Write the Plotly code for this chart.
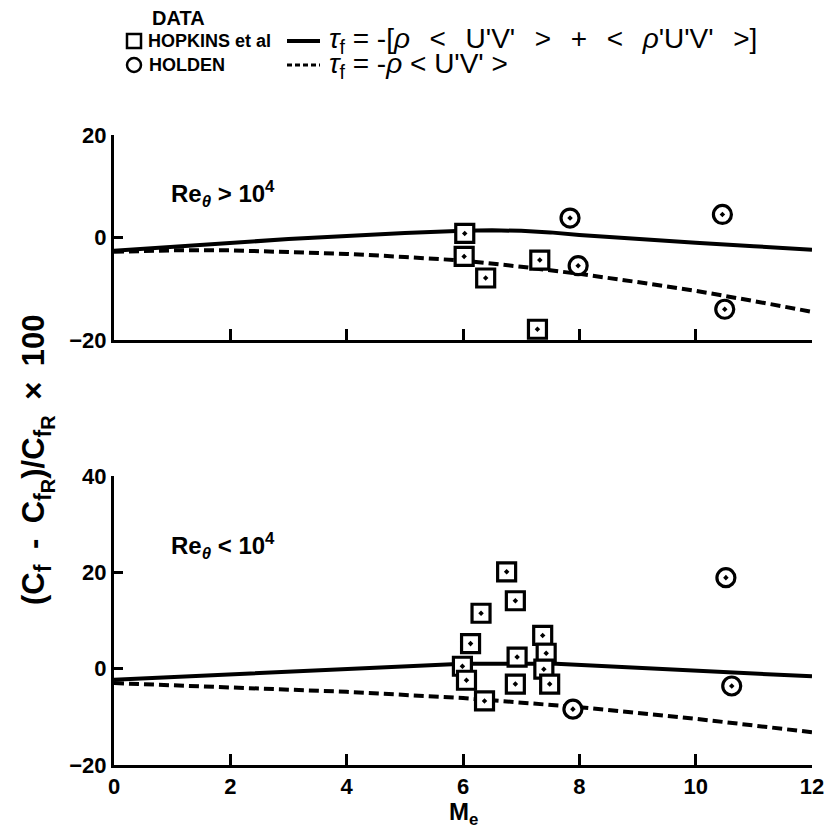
import plotly.graph_objects as go

W, H = 829, 839

# ---------------- data ----------------
# Re_theta > 1e4 (top panel)
hop_hi_x = [6.03, 6.02, 6.39, 7.32, 7.28]
hop_hi_y = [0.8, -3.7, -7.9, -4.4, -17.9]
hol_hi_x = [7.84, 7.98, 10.46, 10.50]
hol_hi_y = [3.8, -5.5, 4.5, -14.0]
sol_hi_x = [0, 1, 2, 3, 4, 5, 6, 6.5, 7, 7.5, 8, 9, 10, 11, 12]
sol_hi_y = [-2.6, -1.8, -1.0, -0.3, 0.3, 0.9, 1.3, 1.4, 1.3, 1.0, 0.5, -0.3, -1.0, -1.7, -2.4]
das_hi_x = [0, 1, 2, 3, 4, 5, 6, 7, 8, 9, 10, 11, 12]
das_hi_y = [-2.8, -2.5, -2.5, -2.8, -3.2, -3.8, -4.5, -5.7, -7.1, -8.7, -10.4, -12.4, -14.5]

# Re_theta < 1e4 (bottom panel)
hop_lo_x = [6.75, 6.90, 6.31, 6.13, 5.99, 6.06, 6.37, 6.93, 6.90, 7.37, 7.43, 7.39, 7.49]
hop_lo_y = [20.1, 14.1, 11.5, 5.2, 0.5, -2.4, -6.7, 2.4, -3.2, 6.9, 3.2, -0.1, -3.2]
hol_lo_x = [7.89, 10.52, 10.62, 12.07, 12.03]
hol_lo_y = [-8.4, 18.9, -3.6, 42.6, 3.6]
sol_lo_x = [0, 6, 7.6, 12]
sol_lo_y = [-2.3, 1.0, 1.0, -1.6]
das_lo_x = [0, 2, 4, 6, 8, 10, 12]
das_lo_y = [-3.0, -3.8, -4.8, -6.1, -8.0, -10.4, -13.2]

x_ticks = [0, 2, 4, 6, 8, 10, 12]
y_ticks_hi = [-20, 0, 20]
y_ticks_lo = [-20, 0, 20, 40]

# ---------------- layout helpers (targets in screenshot pixels) ----------------
AX_L, AX_R = 114, 812
L, R, T, B = AX_L, W - AX_R, 0, 0
PW, PH = W - L - R, H - T - B


def px(xp):
    return (xp - L) / PW


def py(yp):
    return 1 - (yp - T) / PH


FONT = "Liberation Sans"
BOLD = dict(family=FONT, size=22, color="black", weight="bold")

fig = go.Figure()

line_solid = dict(color="black", width=4)
line_dash = dict(color="black", width=4, dash="10px,5px")


def add_panel(xa, ya, sx, sy, dx, dy, hx, hy, ox, oy):
    fig.add_trace(go.Scatter(x=dx, y=dy, mode="lines", line=line_dash,
                             xaxis=xa, yaxis=ya, showlegend=False, hoverinfo="skip"))
    fig.add_trace(go.Scatter(x=sx, y=sy, mode="lines", line=line_solid,
                             xaxis=xa, yaxis=ya, showlegend=False, hoverinfo="skip"))
    fig.add_trace(go.Scatter(x=hx, y=hy, mode="markers", cliponaxis=False,
                             marker=dict(symbol="square-dot", size=18, color="white",
                                         line=dict(color="black", width=3.2)),
                             xaxis=xa, yaxis=ya, name="HOPKINS et al", showlegend=False))
    fig.add_trace(go.Scatter(x=ox, y=oy, mode="markers", cliponaxis=False,
                             marker=dict(symbol="circle-dot", size=18, color="white",
                                         line=dict(color="black", width=3.2)),
                             xaxis=xa, yaxis=ya, name="HOLDEN", showlegend=False))


add_panel("x", "y", sol_hi_x, sol_hi_y, das_hi_x, das_hi_y, hop_hi_x, hop_hi_y, hol_hi_x, hol_hi_y)
add_panel("x2", "y2", sol_lo_x, sol_lo_y, das_lo_x, das_lo_y, hop_lo_x, hop_lo_y, hol_lo_x, hol_lo_y)

axis_common = dict(showline=True, linewidth=3, linecolor="black", showgrid=False,
                   zeroline=False, ticks="inside", tickcolor="black", tickwidth=2.5,
                   tickfont=BOLD, mirror=False, automargin=False,
                   ticklabeloverflow="allow")

fig.update_layout(
    template="none",
    width=W, height=H,
    margin=dict(l=L, r=R, t=T, b=B, pad=0),
    paper_bgcolor="white", plot_bgcolor="white",
    showlegend=False,
    xaxis=dict(domain=[0, 1], anchor="y", range=[0, 12], tickvals=x_ticks,
               showticklabels=False, ticklen=11, **axis_common),
    yaxis=dict(domain=[py(340), py(135)], anchor="x", range=[-20, 20],
               tickvals=y_ticks_hi, ticklen=9, **axis_common),
    xaxis2=dict(domain=[0, 1], anchor="y2", range=[0, 12], tickvals=x_ticks,
                ticklen=11, **axis_common),
    yaxis2=dict(domain=[py(765), py(476)], anchor="x2", range=[-20, 40],
                tickvals=y_ticks_lo, ticklen=9, **axis_common),
)


def sz(t, s):
    return f"<span style='font-size:{s}px'>{t}</span>"


ann = []
RE_F = dict(family=FONT, size=24, color="black", weight="bold")
ann.append(dict(xref="x", yref="y", x=0.95, y=8.5, xanchor="left", yanchor="middle",
                text="Re<sub><i>θ</i></sub> &gt; 10<sup>4</sup>", showarrow=False, font=RE_F))
ann.append(dict(xref="x2", yref="y2", x=0.95, y=25.5, xanchor="left", yanchor="middle",
                text="Re<sub><i>θ</i></sub> &lt; 10<sup>4</sup>", showarrow=False, font=RE_F))
# axis titles
EN = "&#8194;"
fR = f"{sz('f', 23)}<sub>{sz('R', 20)}</sub>"
ann.append(dict(xref="paper", yref="paper", x=px(37), y=py(460), xanchor="center",
                yanchor="middle", textangle=-90, showarrow=False,
                text=f"(C<sub>{sz('f', 23)}</sub>{EN}-{EN}C<sub>{fR}</sub>)/C<sub>{fR}</sub>{EN}×{EN}100",
                font=dict(family=FONT, size=31, color="black", weight="bold")))
ann.append(dict(xref="paper", yref="paper", x=px(463), y=py(813), xanchor="center",
                yanchor="middle", showarrow=False, text="M<sub>e</sub>",
                font=dict(family=FONT, size=24, color="black", weight="bold")))
# legend block
LEGF = dict(family=FONT, size=18, color="black", weight="bold")
FORMF = dict(family=FONT, size=28, color="black")
GAP = "&#8194;&#8201;"
ann.append(dict(xref="paper", yref="paper", x=px(178), y=py(18), xanchor="center",
                yanchor="middle", showarrow=False, text="DATA",
                font=dict(family=FONT, size=20, color="black", weight="bold")))
ann.append(dict(xref="paper", yref="paper", x=px(146), y=py(41), xanchor="left",
                yanchor="middle", showarrow=False, text="HOPKINS et al", font=LEGF))
ann.append(dict(xref="paper", yref="paper", x=px(147), y=py(65), xanchor="left",
                yanchor="middle", showarrow=False, text="HOLDEN", font=LEGF))
ann.append(dict(xref="paper", yref="paper", x=px(327), y=py(41), xanchor="left",
                yanchor="middle", showarrow=False, font=FORMF,
                text=f"<i>τ</i><sub>f</sub> = -[<i>ρ</i>{GAP}&lt;{GAP}U'V'{GAP}&gt;{GAP}+{GAP}&lt;{GAP}<i>ρ</i>'U'V'{GAP}&gt;]"))
ann.append(dict(xref="paper", yref="paper", x=px(327), y=py(65), xanchor="left",
                yanchor="middle", showarrow=False, font=FORMF,
                text="<i>τ</i><sub>f</sub> = -<i>ρ</i> &lt; U'V' &gt;"))
fig.update_layout(annotations=ann)

shapes = [
    dict(type="rect", xref="paper", yref="paper", x0=px(127), x1=px(141), y0=py(48), y1=py(34),
         line=dict(color="black", width=2.5)),
    dict(type="circle", xref="paper", yref="paper", x0=px(127), x1=px(141), y0=py(72), y1=py(58),
         line=dict(color="black", width=2.5)),
    dict(type="line", xref="paper", yref="paper", x0=px(287), x1=px(320), y0=py(41), y1=py(41),
         line=dict(color="black", width=4)),
    dict(type="line", xref="paper", yref="paper", x0=px(287), x1=px(320), y0=py(65), y1=py(65),
         line=dict(color="black", width=3, dash="5px,3px")),
]
fig.update_layout(shapes=shapes)

# remove the browser's default 8px page margin so the figure fills the window
fig.write_html("out.html", config={"displayModeBar": False},
               post_script="document.body.style.margin='0';")
